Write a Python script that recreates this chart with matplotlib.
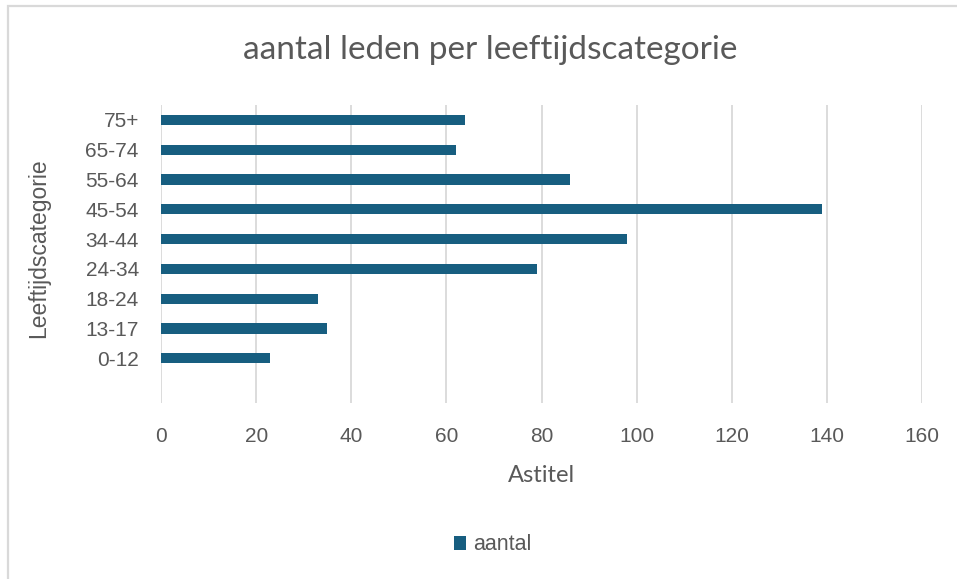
import matplotlib.pyplot as plt
import numpy as np
from matplotlib.patches import Rectangle

# Data (bottom to top, as in the chart)
categories = ["0-12", "13-17", "18-24", "24-34", "34-44", "45-54", "55-64", "65-74", "75+"]
aantal = [23, 35, 33, 79, 98, 139, 86, 62, 64]
x_ticks = [0, 20, 40, 60, 80, 100, 120, 140, 160]

bar_color = "#175E80"
text_color = "#595959"
grid_color = "#D9D9D9"

fig = plt.figure(figsize=(9.57, 5.79), dpi=100)

# light grey chart border (left and top visible)
fig.patches.append(Rectangle((8 / 957, -0.01), 1.0, 1 - 6 / 579 + 0.01,
                             transform=fig.transFigure, fill=False,
                             edgecolor=grid_color, linewidth=1.6))

ax = fig.add_axes([161 / 957, 1 - 403 / 579, (922 - 161) / 957, (403 - 105) / 579])

y = np.arange(len(categories))
ax.barh(y, aantal, height=0.34, color=bar_color, label="aantal", zorder=3)

ax.set_xlim(0, 160)
ax.set_ylim(-1.5, len(categories) - 0.5)
ax.set_xticks(x_ticks)
ax.set_yticks(y)
ax.set_yticklabels(categories)

ax.grid(axis="x", color=grid_color, linewidth=1.3, zorder=0)
ax.grid(axis="y", visible=False)
for s in ax.spines.values():
    s.set_visible(False)
ax.tick_params(length=0, colors=text_color, labelsize=15)
ax.tick_params(axis="x", pad=17)
ax.tick_params(axis="y", pad=16)
for lbl in ax.get_xticklabels() + ax.get_yticklabels():
    lbl.set_family("Liberation Sans")

fig.text(490 / 957, 1 - 50 / 579, "aantal leden per leeftijdscategorie",
         ha="center", va="center", fontsize=24, color=text_color, family="Lato")
fig.text(541 / 957, 1 - 475 / 579, "Astitel", ha="center", va="center",
         fontsize=17, color=text_color, family="Lato")
fig.text(39 / 957, 1 - 248 / 579, "Leeftijdscategorie", ha="center", va="center",
         rotation=90, fontsize=16.5, color=text_color, family="Liberation Sans")

leg = fig.legend(loc="center", bbox_to_anchor=(493 / 957, 1 - 545 / 579),
                 frameon=False, handlelength=0.55, handleheight=0.6,
                 handletextpad=0.35, prop={"family": "Liberation Sans", "size": 15.5})
for t in leg.get_texts():
    t.set_color(text_color)

fig.savefig("out.png", dpi=100)
